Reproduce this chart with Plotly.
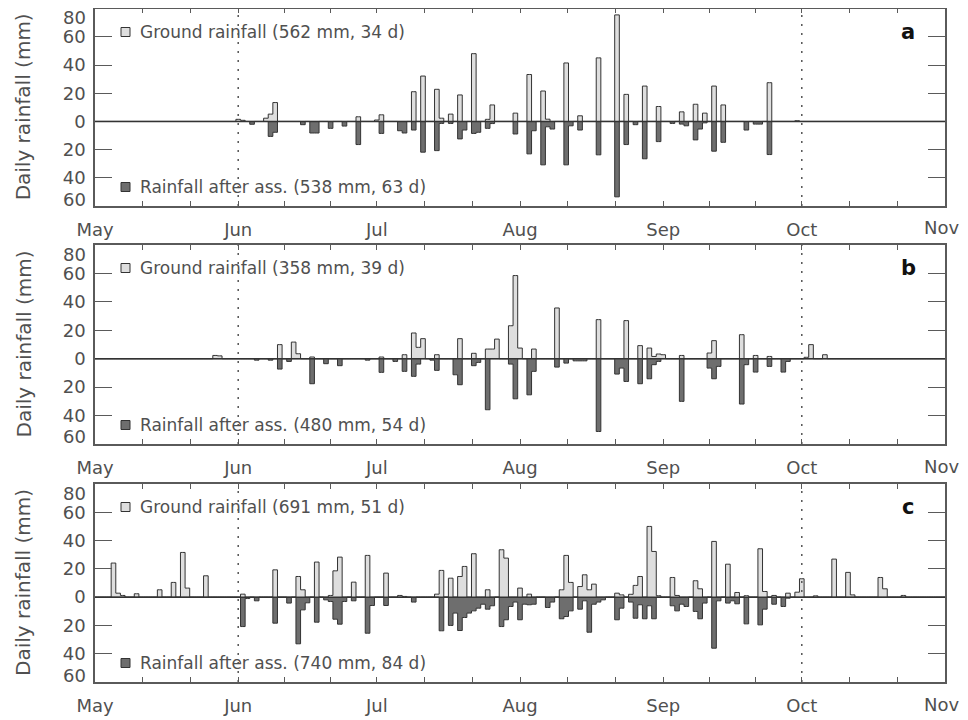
import numpy as np
import plotly.graph_objects as go

# ---------------- data (day index: 0 = 1 May) ----------------
N_DAYS = 184
month_names = ["May", "Jun", "Jul", "Aug", "Sep", "Oct", "Nov"]
month_starts = [0, 31, 61, 92, 123, 153, 184]
y_tickvals = [-40, -20, 0, 20, 40, 60]
y_ticktext = ["40", "20", "0", "20", "40", "60"]

# Panel a
a_ground_days = [31, 32, 37, 38, 39, 57, 61, 62, 69, 71, 74, 75, 77, 79, 82, 85, 86, 91, 94, 97,
                 98, 102, 105, 109, 113, 115, 119, 122, 127, 130, 132, 134, 136, 146, 152]
a_ground_mm = [1.5, 0.8, 2.3, 5.2, 13.4, 3.3, 1.0, 4.7, 21.1, 32.2, 22.8, 2.3, 5.2, 18.8, 48.1, 1.5, 11.7, 5.9, 33.3, 21.6,
               1.6, 41.5, 4.0, 45.1, 75.6, 19.2, 25.1, 10.6, 6.8, 12.2, 5.9, 25.1, 11.7, 27.5, 0.5]
a_after_days = [34, 38, 39, 45, 47, 48, 51, 54, 57, 62, 66, 67, 69, 71, 74, 75, 77, 79, 80, 82,
                83, 85, 86, 91, 94, 95, 97, 98, 99, 102, 103, 105, 109, 113, 115, 117, 119, 122, 125, 127,
                128, 130, 131, 132, 134, 136, 141, 143, 144, 146]
a_after_mm = [2.0, 10.6, 7.7, 2.3, 8.2, 8.2, 4.9, 3.3, 16.4, 8.5, 6.6, 8.2, 6.1, 21.8, 20.7, 1.4, 1.4, 12.4, 6.1, 8.5,
              7.7, 4.9, 1.5, 8.9, 23.0, 6.6, 30.8, 3.8, 5.4, 30.8, 3.1, 6.1, 23.7, 53.5, 16.4, 2.3, 26.5, 14.3, 1.4, 1.9,
              3.1, 13.1, 5.4, 1.0, 21.1, 14.8, 6.1, 1.9, 1.9, 23.5]

# Panel b
b_ground_days = [26, 27, 40, 43, 44, 47, 62, 67, 69, 70, 71, 74, 79, 82, 85, 86, 87, 90, 91, 92,
                 95, 100, 109, 115, 118, 120, 121, 122, 123, 127, 133, 134, 140, 143, 146, 154, 155, 158]
b_ground_mm = [2.3, 2.0, 9.9, 11.7, 3.5, 1.2, 1.2, 2.8, 18.1, 8.0, 14.1, 2.8, 14.1, 3.8, 6.8, 6.8, 13.8, 23.2, 58.5, 7.5,
               6.8, 35.7, 27.5, 26.8, 9.2, 7.5, 1.6, 3.3, 2.8, 2.3, 4.0, 12.7, 16.9, 2.3, 1.6, 1.0, 9.9, 2.8]
b_after_days = [35, 38, 40, 42, 47, 50, 53, 59, 62, 65, 67, 69, 70, 73, 74, 78, 79, 82, 83, 85,
                90, 91, 94, 95, 100, 102, 104, 105, 106, 109, 113, 114, 115, 118, 120, 121, 122, 127, 133, 134,
                135, 140, 141, 143, 146, 149, 150]
b_after_mm = [1.0, 1.0, 7.3, 1.9, 17.6, 3.5, 4.9, 1.0, 9.6, 1.9, 8.9, 12.4, 3.8, 1.0, 8.2, 11.3, 18.3, 4.9, 2.6, 35.9,
              3.8, 28.2, 25.4, 8.9, 5.9, 3.1, 1.5, 1.5, 1.5, 51.2, 10.8, 6.6, 16.0, 17.6, 14.1, 4.2, 1.9, 30.0, 6.6, 14.1,
              5.4, 31.9, 4.2, 9.4, 5.4, 9.4, 1.9]

# Panel c
c_ground_days = [4, 5, 6, 9, 14, 17, 19, 20, 24, 32, 39, 44, 45, 48, 51, 52, 53, 56, 59, 63,
                 66, 67, 74, 75, 77, 79, 80, 82, 85, 88, 89, 92, 94, 101, 102, 103, 105, 106, 107, 108,
                 113, 114, 116, 117, 118, 120, 121, 122, 125, 126, 130, 131, 134, 137, 139, 141, 144, 145, 147, 150,
                 152, 153, 156, 160, 163, 164, 170, 171, 175]
c_ground_mm = [24.1, 2.8, 1.2, 2.4, 5.2, 10.4, 31.6, 6.4, 15.1, 2.1, 19.3, 14.6, 5.2, 24.8, 1.2, 18.6, 28.3, 10.6, 29.5, 17.0,
               1.2, 0.5, 2.1, 18.9, 13.4, 14.6, 21.7, 30.7, 5.2, 33.5, 27.6, 6.4, 2.1, 5.2, 29.5, 10.4, 7.5, 15.8, 5.2, 9.2,
               2.8, 1.6, 2.0, 8.3, 14.6, 50.0, 32.3, 1.0, 13.9, 1.2, 11.6, 5.9, 39.4, 23.3, 3.3, 1.0, 34.2, 4.0, 1.2, 2.8,
               3.5, 13.0, 0.9, 26.9, 17.5, 1.6, 13.9, 5.9, 1.2]
c_after_days = [32, 33, 35, 39, 42, 44, 45, 46, 48, 50, 51, 52, 53, 54, 56, 59, 60, 63, 69, 75,
                77, 78, 79, 80, 81, 82, 83, 84, 85, 86, 88, 89, 90, 91, 92, 93, 94, 95, 98, 99,
                101, 102, 103, 105, 106, 107, 108, 109, 110, 113, 114, 116, 117, 118, 119, 120, 121, 125, 126, 127,
                128, 130, 131, 132, 134, 135, 137, 138, 139, 141, 144, 145, 147, 149, 150]
c_after_mm = [20.8, 1.0, 2.6, 18.4, 4.2, 33.0, 9.0, 4.0, 17.7, 1.9, 3.1, 15.6, 19.1, 3.1, 2.6, 25.5, 5.9, 5.9, 3.5, 23.8,
              20.0, 11.3, 23.6, 14.4, 11.3, 9.7, 7.8, 5.0, 8.5, 6.1, 20.8, 16.0, 6.6, 3.5, 16.0, 5.0, 5.4, 5.0, 7.3, 3.5,
              15.3, 13.7, 9.7, 8.5, 2.6, 24.8, 5.0, 3.5, 1.9, 16.0, 7.8, 3.5, 14.9, 5.4, 15.3, 6.1, 15.3, 6.1, 9.7, 5.0,
              6.6, 10.1, 15.3, 4.2, 36.1, 2.6, 4.2, 2.6, 4.7, 18.9, 19.6, 8.5, 5.0, 6.6, 0.7]

panel_labels = ["a", "b", "c"]
ground_text = ["Ground rainfall (562 mm, 34 d)", "Ground rainfall (358 mm, 39 d)", "Ground rainfall (691 mm, 51 d)"]
after_text = ["Rainfall after ass. (538 mm, 63 d)", "Rainfall after ass. (480 mm, 54 d)", "Rainfall after ass. (740 mm, 84 d)"]

panels = [
    (a_ground_days, a_ground_mm, a_after_days, a_after_mm),
    (b_ground_days, b_ground_mm, b_after_days, b_after_mm),
    (c_ground_days, c_ground_mm, c_after_days, c_after_mm),
]

# ---------------- layout helpers ----------------
OFF = 8  # page body margin in the browser
W, H = 968 - OFF, 720 - OFF   # figure reaches the window's right and bottom edges
FONT = "DejaVu Sans"
TXT = "#505050"
EDGE = "#333333"
LIGHT = "#dedede"
DARK = "#6e6e6e"
FRAME = "#5a5a5a"


def px(x):
    return min(1.0, max(0.0, (x - OFF) / W))


def py(y):
    return min(1.0, max(0.0, 1 - (y - OFF) / H))


panel_px = [(8.7, 206), (245, 444), (484, 682)]  # top, bottom in screen pixels
x_left, x_right = 95, 945

# tick positions: each month split in thirds (last label drawn separately)
xt_vals, xt_text = [], []
for i in range(len(month_starts) - 1):
    s, e = month_starts[i], month_starts[i + 1]
    L = e - s
    for k in range(3):
        xt_vals.append(s + k * L / 3)
        xt_text.append(month_names[i] if k == 0 else "")
xt_vals.append(month_starts[-1])
xt_text.append("")

days_axis = np.arange(0, N_DAYS + 1)


def daily(days, vals, sign=1):
    arr = np.zeros(N_DAYS + 1)
    for d, v in zip(days, vals):
        arr[d] = sign * v
    return arr


fig = go.Figure()
shapes = []
annotations = []

for i, (gd, gv, ad, av) in enumerate(panels):
    xa = "x" if i == 0 else f"x{i+1}"
    ya = "y" if i == 0 else f"y{i+1}"
    top, bot = panel_px[i]

    fig.add_trace(go.Scatter(
        x=days_axis, y=daily(gd, gv, 1), mode="lines",
        line=dict(shape="hvh", color=EDGE, width=1),
        fill="tozeroy", fillcolor=LIGHT, xaxis=xa, yaxis=ya,
        showlegend=False, hoverinfo="skip"))
    fig.add_trace(go.Scatter(
        x=days_axis, y=daily(ad, av, -1), mode="lines",
        line=dict(shape="hvh", color=EDGE, width=1),
        fill="tozeroy", fillcolor=DARK, xaxis=xa, yaxis=ya,
        showlegend=False, hoverinfo="skip"))

    xkey = "xaxis" if i == 0 else f"xaxis{i+1}"
    ykey = "yaxis" if i == 0 else f"yaxis{i+1}"
    fig.layout[xkey] = dict(
        domain=[px(x_left), px(x_right)], anchor=ya, range=[0, N_DAYS],
        tickmode="array", tickvals=xt_vals, ticktext=xt_text,
        ticks="inside", ticklen=5, tickcolor=FRAME, tickwidth=1,
        showline=True, linecolor=FRAME, linewidth=1.5, mirror="ticks",
        showgrid=False, zeroline=False, ticklabelstandoff=7, automargin=False,
        tickfont=dict(family=FONT, size=18, color=TXT))
    fig.layout[ykey] = dict(
        domain=[py(bot), py(top)], anchor=xa, range=[-60, 80],
        tickmode="array", tickvals=y_tickvals, ticktext=y_ticktext,
        ticks="inside", ticklen=17, tickcolor=FRAME, tickwidth=1,
        showline=True, linecolor=FRAME, linewidth=1.5, mirror="ticks",
        showgrid=False, zeroline=False, ticklabelstandoff=4, automargin=False,
        tickfont=dict(family=FONT, size=18, color=TXT))

    # zero line
    shapes.append(dict(type="line", xref=xa, yref=ya, x0=0, x1=N_DAYS, y0=0, y1=0,
                       line=dict(color=EDGE, width=1.5), layer="above"))
    # dotted month markers (1 Jun, 1 Oct)
    for d in (month_starts[1], month_starts[5]):
        shapes.append(dict(type="line", xref=xa, yref=f"{ya} domain", x0=d, x1=d, y0=0, y1=1,
                           line=dict(color="#555555", width=1.5, dash="2px,7px"), layer="above"))

    # last month label (kept inside the page)
    annotations.append(dict(text=month_names[-1], x=px(961), y=py(bot + 22), xref="paper", yref="paper",
                            xanchor="right", yanchor="middle", showarrow=False,
                            font=dict(family=FONT, size=18, color=TXT)))
    # end labels of y axis (80 and 60)
    annotations.append(dict(text="80", x=px(88), y=py(max(top, 7) + 9), xref="paper", yref="paper",
                            xanchor="right", yanchor="middle", showarrow=False,
                            font=dict(family=FONT, size=18, color=TXT)))
    annotations.append(dict(text="60", x=px(88), y=py(bot - 7), xref="paper", yref="paper",
                            xanchor="right", yanchor="middle", showarrow=False,
                            font=dict(family=FONT, size=18, color=TXT)))
    # y title
    annotations.append(dict(text="Daily rainfall (mm)", x=px(23), y=py((top + bot) / 2),
                            xref="paper", yref="paper", xanchor="center", yanchor="middle",
                            textangle=-90, showarrow=False,
                            font=dict(family=FONT, size=20, color=TXT)))
    # legend entries
    for text, yc, fc in ((ground_text[i], round(top) + 23, LIGHT), (after_text[i], bot - 19, DARK)):
        shapes.append(dict(type="rect", xref="paper", yref="paper",
                           x0=px(121), x1=px(130), y0=py(yc + 4.5), y1=py(yc - 4.5),
                           fillcolor=fc, line=dict(color=EDGE, width=1), layer="above"))
        annotations.append(dict(text=text, x=px(138), y=py(yc), xref="paper", yref="paper",
                                xanchor="left", yanchor="middle", showarrow=False,
                                font=dict(family=FONT, size=17, color=TXT)))
    # panel letter
    annotations.append(dict(text=f"<b>{panel_labels[i]}</b>", x=px(908), y=py(round(top) + 23),
                            xref="paper", yref="paper", xanchor="center", yanchor="middle",
                            showarrow=False, font=dict(family=FONT, size=21, color="#111111")))

fig.update_layout(
    width=W, height=H, autosize=False,
    margin=dict(l=0, r=0, t=0, b=0, autoexpand=False),
    paper_bgcolor="white", plot_bgcolor="white",
    shapes=shapes, annotations=annotations,
    font=dict(family=FONT, color=TXT),
)

fig.write_html("out.html")
